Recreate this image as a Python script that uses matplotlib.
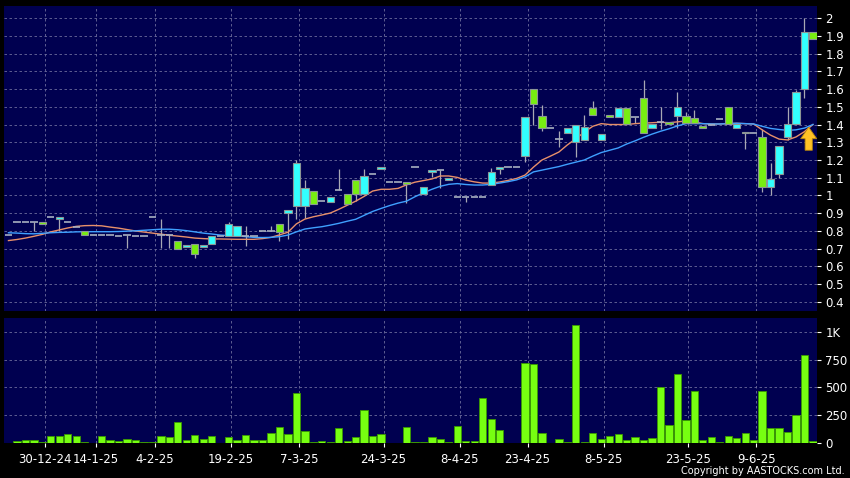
import matplotlib
matplotlib.use('Agg')
import matplotlib.pyplot as plt
from matplotlib.patches import Rectangle, FancyArrow
import numpy as np

# ---------------- data ----------------
opens = [0.78, 0.85, 0.85, 0.85, 0.85, 0.88, 0.868, 0.85, 0.82, 0.80,
         0.78, 0.78, 0.775, 0.77, 0.775, 0.77, 0.77, 0.88, 0.78, 0.778,
         0.745, 0.708, 0.725, 0.708, 0.725, 0.77, 0.772, 0.772, 0.77, 0.77,
         0.80, 0.80, 0.84, 0.90, 0.941, 0.941, 1.027, 0.967, 0.965, 1.031,
         1.007, 1.086, 1.007, 1.121, 1.148, 1.078, 1.078, 1.078, 1.16, 1.007,
         1.131, 1.146, 1.086, 0.993, 0.993, 0.99, 0.993, 1.059, 1.148, 1.159,
         1.159, 1.223, 1.598, 1.45, 1.379, 1.317, 1.35, 1.30, 1.311, 1.491,
         1.313, 1.453, 1.44, 1.491, 1.44, 1.547, 1.379, 1.416, 1.416, 1.448,
         1.448, 1.438, 1.392, 1.40, 1.43, 1.497, 1.38, 1.36, 1.35, 1.328,
         1.05, 1.121, 1.328, 1.401, 1.598, 1.919]
highs = [0.78, 0.85, 0.85, 0.85, 0.85, 0.88, 0.878, 0.85, 0.82, 0.80,
         0.78, 0.78, 0.775, 0.77, 0.775, 0.77, 0.77, 0.88, 0.87, 0.778,
         0.745, 0.721, 0.725, 0.72, 0.772, 0.77, 0.853, 0.826, 0.828, 0.77,
         0.80, 0.83, 0.84, 0.918, 1.20, 1.087, 1.027, 0.967, 0.993, 1.149,
         1.007, 1.086, 1.149, 1.121, 1.159, 1.078, 1.078, 1.078, 1.16, 1.046,
         1.146, 1.146, 1.097, 0.993, 0.993, 0.99, 0.993, 1.153, 1.159, 1.159,
         1.159, 1.44, 1.598, 1.51, 1.379, 1.363, 1.379, 1.397, 1.453, 1.532,
         1.348, 1.453, 1.491, 1.491, 1.44, 1.651, 1.401, 1.497, 1.416, 1.585,
         1.472, 1.482, 1.392, 1.40, 1.43, 1.497, 1.401, 1.36, 1.35, 1.373,
         1.181, 1.279, 1.497, 1.594, 1.998, 1.919]
lows = [0.78, 0.85, 0.85, 0.80, 0.84, 0.88, 0.80, 0.85, 0.82, 0.776,
        0.78, 0.78, 0.775, 0.77, 0.705, 0.77, 0.77, 0.88, 0.705, 0.705,
        0.70, 0.708, 0.646, 0.708, 0.725, 0.77, 0.772, 0.772, 0.715, 0.77,
        0.80, 0.80, 0.745, 0.755, 0.866, 0.872, 0.95, 0.967, 0.965, 1.031,
        0.95, 0.969, 1.007, 1.121, 1.148, 1.078, 1.078, 0.956, 1.16, 1.007,
        1.106, 1.04, 1.086, 0.993, 0.965, 0.99, 0.993, 1.059, 1.119, 1.159,
        1.159, 1.187, 1.40, 1.363, 1.379, 1.275, 1.35, 1.219, 1.311, 1.453,
        1.313, 1.44, 1.44, 1.403, 1.41, 1.35, 1.379, 1.377, 1.403, 1.38,
        1.41, 1.41, 1.38, 1.40, 1.43, 1.403, 1.38, 1.26, 1.35, 1.021,
        1.003, 1.097, 1.313, 1.401, 1.547, 1.88]
closes = [0.78, 0.85, 0.85, 0.85, 0.84, 0.88, 0.878, 0.85, 0.82, 0.776,
          0.78, 0.78, 0.775, 0.77, 0.775, 0.77, 0.77, 0.88, 0.78, 0.778,
          0.70, 0.721, 0.67, 0.72, 0.772, 0.77, 0.839, 0.826, 0.77, 0.77,
          0.80, 0.80, 0.796, 0.918, 1.181, 1.04, 0.95, 0.967, 0.993, 1.031,
          0.95, 1.007, 1.11, 1.121, 1.159, 1.078, 1.078, 1.067, 1.16, 1.046,
          1.146, 1.146, 1.097, 0.993, 0.993, 0.99, 0.993, 1.134, 1.159, 1.159,
          1.159, 1.44, 1.517, 1.379, 1.379, 1.317, 1.379, 1.397, 1.388, 1.453,
          1.348, 1.44, 1.491, 1.403, 1.44, 1.35, 1.401, 1.416, 1.403, 1.497,
          1.41, 1.41, 1.38, 1.40, 1.43, 1.403, 1.401, 1.35, 1.35, 1.05,
          1.093, 1.279, 1.401, 1.581, 1.919, 1.88]
volumes = [0, 15, 30, 30, 9, 65, 65, 80, 60, 5,
           2, 60, 24, 20, 36, 24, 5, 5, 60, 50,
           185, 24, 75, 36, 60, 1, 50, 24, 75, 24,
           24, 90, 140, 80, 450, 110, 6, 20, 6, 135,
           20, 50, 300, 65, 80, 0, 0, 140, 5, 8,
           50, 36, 5, 153, 20, 18, 400, 212, 120, 0,
           0, 715, 712, 93, 0, 40, 9, 1060, 9, 90,
           36, 63, 84, 27, 50, 30, 42, 500, 159, 620,
           210, 470, 27, 50, 9, 66, 48, 90, 27, 470,
           135, 135, 102, 250, 787, 15]
ma_short = [0.746, 0.752, 0.760, 0.770, 0.781, 0.795, 0.806, 0.817, 0.826, 0.830,
            0.831, 0.829, 0.822, 0.816, 0.808, 0.800, 0.794, 0.788, 0.782, 0.776,
            0.771, 0.766, 0.760, 0.757, 0.755, 0.755, 0.754, 0.753, 0.753, 0.753,
            0.757, 0.764, 0.778, 0.793, 0.840, 0.867, 0.880, 0.890, 0.901, 0.922,
            0.945, 0.968, 0.995, 1.025, 1.035, 1.035, 1.040, 1.060, 1.075, 1.084,
            1.093, 1.110, 1.110, 1.102, 1.087, 1.077, 1.070, 1.070, 1.076, 1.085,
            1.096, 1.115, 1.160, 1.200, 1.222, 1.245, 1.285, 1.320, 1.357, 1.390,
            1.405, 1.400, 1.400, 1.400, 1.405, 1.408, 1.410, 1.413, 1.410, 1.415,
            1.420, 1.415, 1.405, 1.403, 1.403, 1.405, 1.407, 1.405, 1.403, 1.370,
            1.340, 1.318, 1.313, 1.330, 1.360, 1.400]
ma_long = [0.790, 0.788, 0.785, 0.784, 0.787, 0.790, 0.792, 0.793, 0.795, 0.796,
           0.796, 0.796, 0.796, 0.797, 0.799, 0.801, 0.804, 0.807, 0.810, 0.810,
           0.807, 0.802, 0.795, 0.788, 0.783, 0.777, 0.774, 0.772, 0.768, 0.764,
           0.763, 0.764, 0.768, 0.777, 0.795, 0.811, 0.818, 0.824, 0.833, 0.843,
           0.855, 0.866, 0.888, 0.910, 0.927, 0.943, 0.957, 0.968, 0.993, 1.015,
           1.035, 1.052, 1.063, 1.067, 1.062, 1.059, 1.059, 1.063, 1.070, 1.078,
           1.088, 1.105, 1.133, 1.143, 1.153, 1.163, 1.176, 1.188, 1.200, 1.222,
           1.242, 1.255, 1.268, 1.290, 1.308, 1.328, 1.346, 1.362, 1.376, 1.392,
           1.405, 1.405, 1.405, 1.403, 1.403, 1.405, 1.407, 1.405, 1.403, 1.390,
           1.378, 1.372, 1.367, 1.370, 1.380, 1.400]
date_labels = ['30-12-24', '14-1-25', '4-2-25', '19-2-25', '7-3-25', '24-3-25',
               '8-4-25', '23-4-25', '8-5-25', '23-5-25', '9-6-25']
date_bar_index = [4, 10, 17, 26, 34, 44, 53, 61, 70, 80, 88]
price_ticks = [0.4, 0.5, 0.6, 0.7, 0.8, 0.9, 1.0, 1.1, 1.2, 1.3, 1.4, 1.5, 1.6, 1.7, 1.8, 1.9, 2.0]
vol_ticks = [0, 250, 500, 750, 1000]
vol_tick_labels = ['0', '250', '500', '750', '1K']

# ---------------- style ----------------
BG = '#000050'
GRID = '#6C6C9C'
CYAN = '#33FFFF'
GREEN = '#77EE11'
EDGE = '#8C9696'
WICK = '#A8A8B4'
FLAT = '#A8B0C0'
VOLC = '#77FF11'

n = len(opens)
x = np.arange(n)
bw = 0.86

fig = plt.figure(figsize=(8.5, 4.78), dpi=100, facecolor='black')
ax = fig.add_axes([4/850, 1-311/478, 813/850, 305/478])
ax2 = fig.add_axes([4/850, 1-443/478, 813/850, 125/478])

for a in (ax, ax2):
    a.set_facecolor(BG)
    for s in a.spines.values():
        s.set_visible(False)
    a.set_xlim(-0.53, 95.48)
    a.yaxis.tick_right()
    a.tick_params(axis='y', colors='white', labelcolor='white', length=3,
                  width=0.8, pad=3, labelsize=8.5)
    for xv in np.array(date_bar_index) + 0.3:
        a.axvline(xv, color=GRID, lw=0.6, ls=(0, (3, 3)), zorder=0.5)

# main panel
ax.set_ylim(0.349, 2.068)
ax.set_yticks(price_ticks)
ax.set_yticklabels(['{:g}'.format(round(v, 1)) for v in price_ticks])
ax.set_xticks([])
for yv in price_ticks:
    ax.axhline(yv, color=GRID, lw=0.6, ls=(0, (3, 3)), zorder=0.5)

ax.plot(x, ma_short, color='#E8906A', lw=1.0, zorder=3)
ax.plot(x, ma_long, color='#3FA0FF', lw=1.0, zorder=3)

for i in range(n):
    o, h, l, c = opens[i], highs[i], lows[i], closes[i]
    if h > l:
        ax.vlines(i, l, h, color=WICK, lw=0.9, zorder=2)
    if c > o:
        ax.add_patch(Rectangle((i - bw/2, o), bw, c - o, facecolor=CYAN,
                               edgecolor=EDGE, lw=0.8, zorder=4))
    elif c < o:
        ax.add_patch(Rectangle((i - bw/2, c), bw, o - c, facecolor=GREEN,
                               edgecolor=EDGE, lw=0.8, zorder=4))
    else:
        ax.hlines(o, i - bw/2, i + bw/2, color=FLAT, lw=1.2, zorder=4)

ax.add_patch(FancyArrow(94.5, 1.255, 0, 0.13, width=0.85, head_width=1.9,
                        head_length=0.065, length_includes_head=True,
                        facecolor='#FFC125', edgecolor='#B8860B', lw=0.6, zorder=6))

# volume panel
ax2.set_ylim(0, 1123)
ax2.set_yticks(vol_ticks)
ax2.set_yticklabels(vol_tick_labels)
for yv in vol_ticks[1:]:
    ax2.axhline(yv, color=GRID, lw=0.6, ls=(0, (3, 3)), zorder=0.5)
ax2.bar(x, volumes, width=bw, color=VOLC, edgecolor='#3A9A00', lw=0.6, zorder=3)
ax2.set_xticks(np.array(date_bar_index) + 0.3)
ax2.set_xticklabels(date_labels)
ax2.tick_params(axis='x', colors='white', labelcolor='white', length=3,
                width=0.8, pad=4, labelsize=8.5)

fig.text(0.994, 0.004, 'Copyright by AASTOCKS.com Ltd.', color='white',
         fontsize=7, ha='right', va='bottom')

fig.savefig('out.png', dpi=100, facecolor='black')
